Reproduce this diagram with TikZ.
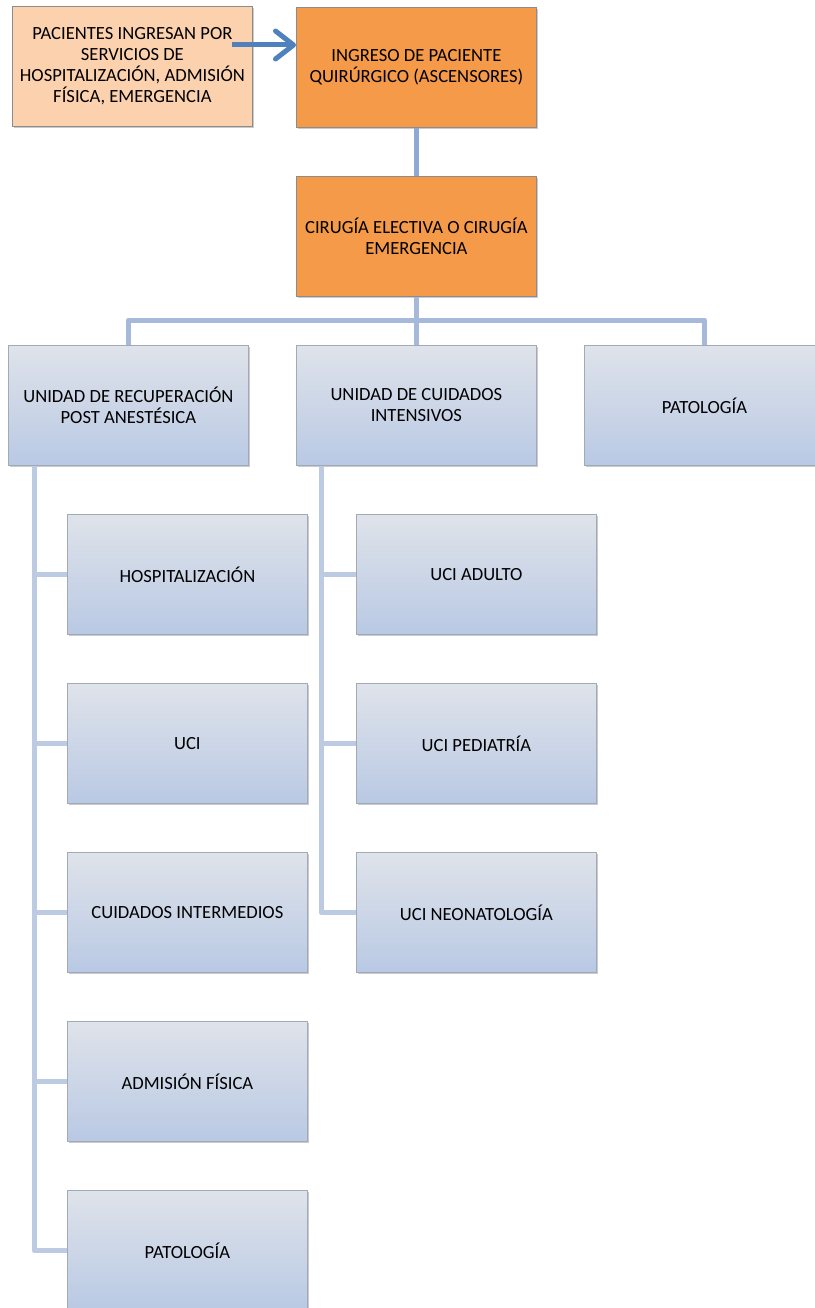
\documentclass[tikz,border=0pt]{standalone}
\usepackage{fontspec}
\setmainfont{Carlito}
\usetikzlibrary{arrows.meta,shadows}
\definecolor{peach}{HTML}{FBD1AE}
\definecolor{orangefill}{HTML}{F59A48}
\definecolor{boxedge}{HTML}{8C8C8C}
\definecolor{bluetop}{HTML}{DFE3EA}
\definecolor{bluebottom}{HTML}{B9C9E4}
\definecolor{blueedge}{HTML}{A2AAB8}
\definecolor{arrowblue}{HTML}{4F81BD}
\definecolor{trunk}{HTML}{8EAAD4}
\definecolor{bus}{HTML}{A6B9DA}
\definecolor{twig}{HTML}{BCCAE2}
\begin{document}
\begin{tikzpicture}[x=1pt,y=-1pt,
  box/.style={anchor=north west, minimum width=240pt, minimum height=120pt,
    inner sep=0pt, align=center, font=\fontsize{18.6}{21}\selectfont,
    drop shadow={shadow xshift=2pt, shadow yshift=-2pt, opacity=0.35, fill=black!60}},
  peachbox/.style={box, draw=boxedge, fill=peach, line width=0.8pt},
  orangebox/.style={box, draw=boxedge, fill=orangefill, line width=0.8pt},
  bluebox/.style={box, draw=blueedge, top color=bluetop, bottom color=bluebottom, line width=0.8pt},
  trunkline/.style={draw=trunk, line width=5pt},
  busline/.style={draw=bus, line width=5pt, line join=round},
  twigline/.style={draw=twig, line width=5pt, line join=round}]
\useasboundingbox (0,0) rectangle (814,1308);

% routing coordinates
\coordinate (arrowstart) at (232,45);
\coordinate (busrow) at (0,320);
\coordinate (leftspine) at (34,0);
\coordinate (midspine) at (321,0);

% top row and the surgery box
\node[peachbox] (A) at (12,6) {PACIENTES INGRESAN POR\\SERVICIOS DE\\HOSPITALIZACIÓN, ADMISIÓN\\FÍSICA, EMERGENCIA};
\node[orangebox] (B) at (296,7) {INGRESO DE PACIENTE\\QUIRÚRGICO (ASCENSORES)};
\node[orangebox] (C) at (296,176) {CIRUGÍA ELECTIVA O CIRUGÍA\\EMERGENCIA};

% the three units
\node[bluebox] (L) at (8,345) {UNIDAD DE RECUPERACIÓN\\POST ANESTÉSICA};
\node[bluebox] (M) at (296,345) {UNIDAD DE CUIDADOS\\INTENSIVOS};
\node[bluebox] (R) at (584,345) {PATOLOGÍA};

% destinations after recovery
\node[bluebox] (L1) at (67,514) {HOSPITALIZACIÓN};
\node[bluebox] (L2) at (67,683) {UCI};
\node[bluebox] (L3) at (67,852) {CUIDADOS INTERMEDIOS};
\node[bluebox] (L4) at (67,1021) {ADMISIÓN FÍSICA};
\node[bluebox] (L5) at (67,1190) {PATOLOGÍA};

% intensive care units
\node[bluebox] (M1) at (356,514) {UCI ADULTO};
\node[bluebox] (M2) at (356,683) {UCI PEDIATRÍA};
\node[bluebox] (M3) at (356,852) {UCI NEONATOLOGÍA};

% arrow from the peach box into the admission box
\draw[arrowblue, line width=5pt, -{Straight Barb[length=18pt, width=28pt, round]}]
  (arrowstart) -- (B.west |- arrowstart);

% vertical trunk and the bus to the three units
\draw[trunkline] (B.south) -- (C.north);
\draw[busline] (C.south) -- (C.south |- busrow);
\draw[busline] (L.north) -- (L.north |- busrow) -- (R.north |- busrow) -- (R.north);
\draw[busline] (M.north) -- (M.north |- busrow);

% left spine with its five branches
\draw[twigline] (leftspine |- L.south) |- (L5.west);
\foreach \n in {L1,L2,L3,L4}
  \draw[twigline] (leftspine |- \n.west) -- (\n.west);

% middle spine with its three branches
\draw[twigline] (midspine |- M.south) |- (M3.west);
\foreach \n in {M1,M2}
  \draw[twigline] (midspine |- \n.west) -- (\n.west);
\end{tikzpicture}
\end{document}
